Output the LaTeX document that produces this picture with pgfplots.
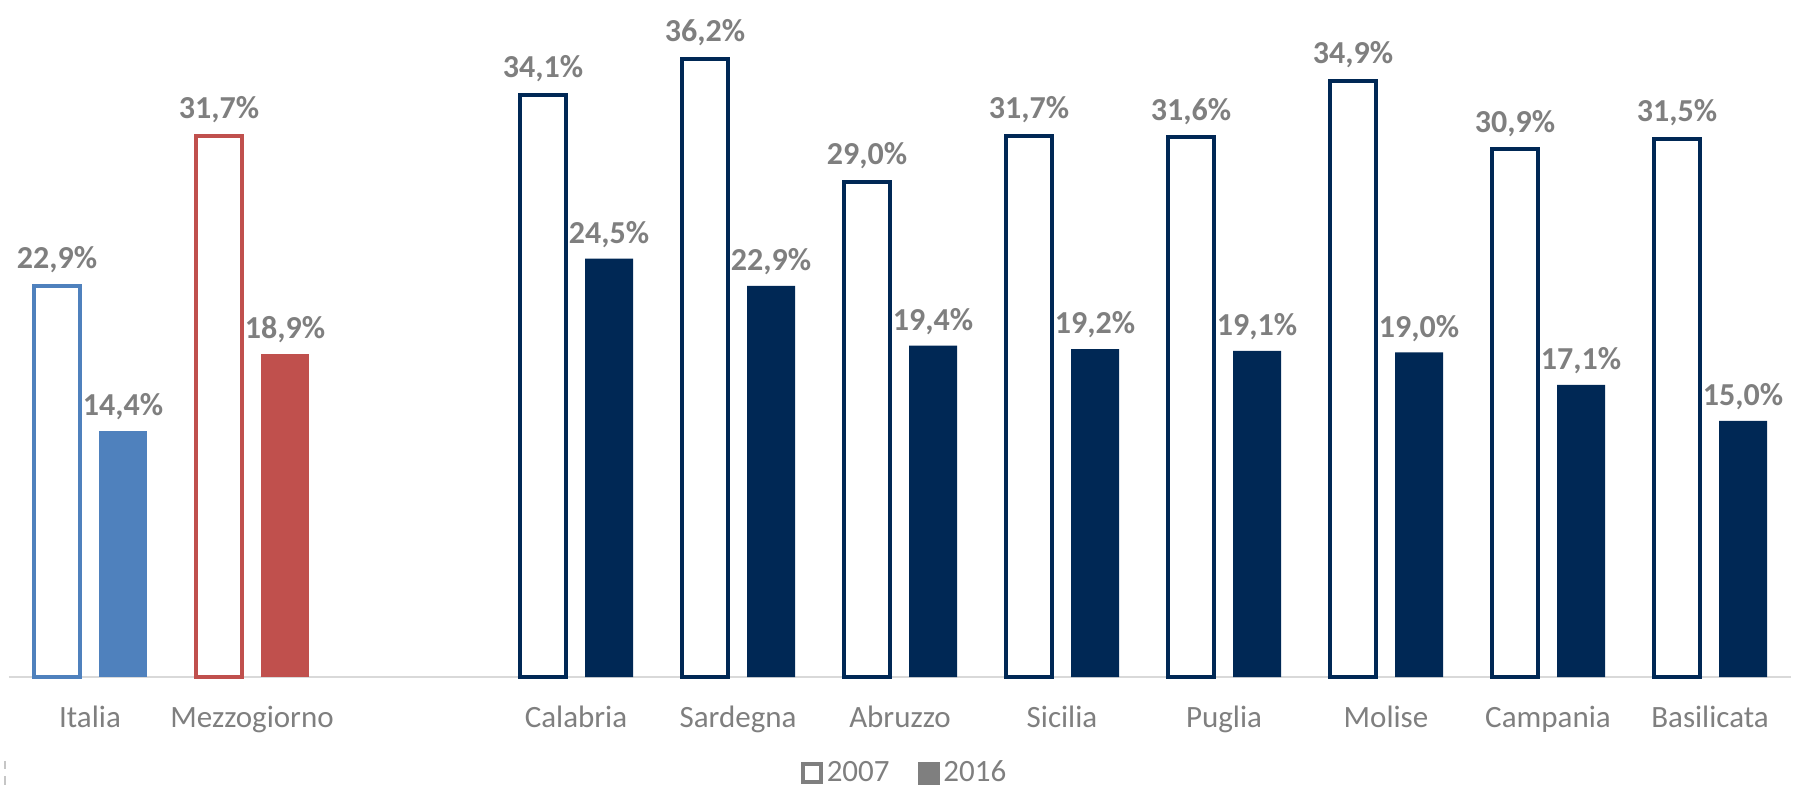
\documentclass[border=0pt]{standalone}
\usepackage{pgfplots}
\pgfplotsset{compat=1.18}
\usepackage{fontspec}
\setmainfont{Carlito}
\definecolor{itblue}{HTML}{4F81BD}
\definecolor{mzred}{HTML}{C0504D}
\definecolor{navy}{HTML}{002855}
\definecolor{labgray}{HTML}{7F7F7F}
\definecolor{tickgray}{HTML}{7F7F7F}
\definecolor{linegray}{HTML}{D9D9D9}
\begin{document}
\begin{tikzpicture}
\begin{axis}[
  at={(0,0)}, anchor=south west,
  x=81pt, y=8.54pt,
  xmin=-0.5, xmax=10.5, ymin=0, ymax=39,
  ybar, bar width=24pt,
  clip=false,
  hide y axis,
  axis x line*=bottom,
  x axis line style={draw=linegray, line width=1.25pt, -},
  xtick={0,1,3,4,5,6,7,8,9,10},
  xticklabels={Italia,Mezzogiorno,Calabria,Sardegna,Abruzzo,Sicilia,Puglia,Molise,Campania,Basilicata},
  major tick length=0pt,
  tick style={draw=none},
  xticklabel style={font=\fontsize{15.5pt}{18pt}\selectfont, text=tickgray, anchor=base, yshift=-25pt},
  /pgf/number format/assume math mode=true,
  nodes near coords={\pgfmathprintnumber[fixed, fixed zerofill, precision=1, use comma]{\pgfplotspointmeta}\%},
  every node near coord/.append style={font=\bfseries\fontsize{16pt}{19pt}\selectfont, text=labgray, yshift=2pt},
  legend style={at={(0.5031,-0.144)}, anchor=center, draw=none, fill=none,
    font=\fontsize{15.5pt}{18pt}\selectfont, text=tickgray,
    legend columns=2, /tikz/every even column/.append style={column sep=12pt}},
]
\addlegendimage{legend image code/.code={\draw[draw=labgray, line width=2pt, fill=white] (1pt,-4.5pt) rectangle (10pt,4.5pt);}}
\addlegendentry{2007}
\addlegendimage{legend image code/.code={\fill[labgray] (0pt,-5.5pt) rectangle (10.5pt,5.5pt);}}
\addlegendentry{2016}
% Italia
\addplot[forget plot, bar shift=-16.5pt, bar width=23pt, draw=itblue, line width=2pt, fill=white] coordinates {(0,22.9)};
\addplot[forget plot, bar shift=16.5pt, draw=none, fill=itblue] coordinates {(0,14.4)};
% Mezzogiorno
\addplot[forget plot, bar shift=-16.5pt, bar width=23pt, draw=mzred, line width=2pt, fill=white] coordinates {(1,31.7)};
\addplot[forget plot, bar shift=16.5pt, draw=none, fill=mzred] coordinates {(1,18.9)};
% Regions
\addplot[forget plot, bar shift=-16.5pt, bar width=23pt, draw=navy, line width=2pt, fill=white] coordinates {
  (3,34.1) (4,36.2) (5,29.0) (6,31.7) (7,31.6) (8,34.9) (9,30.9) (10,31.5)};
\addplot[forget plot, bar shift=16.5pt, draw=none, fill=navy] coordinates {
  (3,24.5) (4,22.9) (5,19.4) (6,19.2) (7,19.1) (8,19.0) (9,17.1) (10,15.0)};
\end{axis}
\draw[gray!45, line width=1pt] (-2pt,-42pt)--(-2pt,-46pt) (-2pt,-49.5pt)--(-2pt,-54pt);
\pgfresetboundingbox
\path[use as bounding box] (-4.5pt,-58pt) rectangle (896pt,338.5pt);
\end{tikzpicture}
\end{document}
